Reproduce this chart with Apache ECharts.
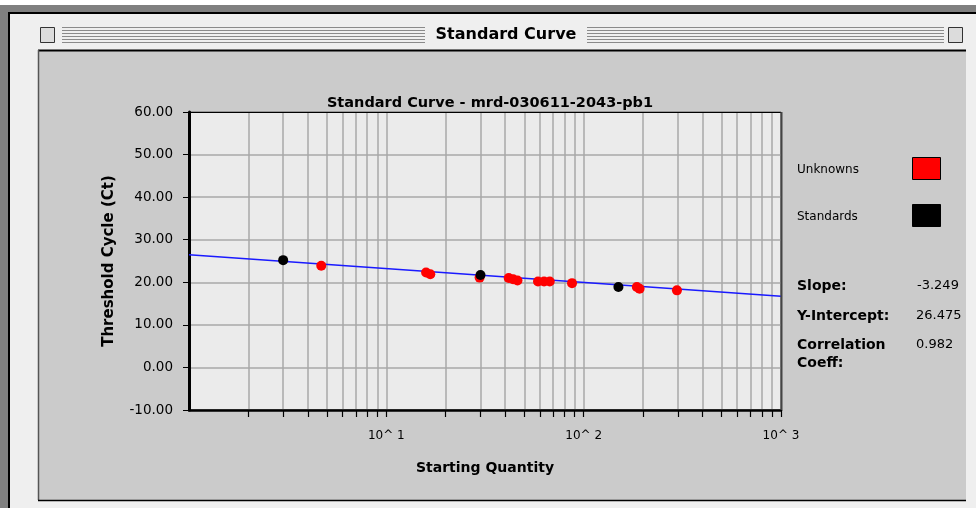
<!DOCTYPE html>
<html>
<head>
<meta charset="utf-8">
<script src="https://cdn.jsdelivr.net/npm/echarts@6/dist/echarts.min.js"></script>
<style>
  html, body { margin: 0; padding: 0; background: #ffffff; }
  #chart { width: 976px; height: 508px; }
</style>
</head>
<body>
<div id="chart"></div>
<script>
// Standard curve: threshold cycle vs. starting quantity (log scale)
const windowTitle = 'Standard Curve';
const chartTitle = 'Standard Curve - mrd-030611-2043-pb1';

const unknownQty = [4.68, 15.9, 16.7, 29.7, 41.7, 43.9, 46.2, 58.7, 63.0, 67.3, 87.3, 186, 192, 297];
const unknownCt  = [23.9, 22.3, 21.9, 21.1, 21.0, 20.7, 20.4, 20.2, 20.2, 20.2, 19.8, 18.9, 18.5, 18.1];

const standardQty = [3, 30, 150];
const standardCt  = [25.2, 21.7, 18.9];

const slope = -3.249;
const intercept = 26.475;
const correlation = 0.982;

const qtyRange = [1, 1000];
const ctRange = [-10, 60];
const ctStep = 10;
const qtyTickValues = [2, 3, 4, 5, 6, 7, 8, 9, 10, 20, 30, 40, 50, 60, 70, 80, 90, 100,
                       200, 300, 400, 500, 600, 700, 800, 900, 1000];
const qtyLabelValues = [10, 100, 1000];

// regression line endpoints from the reported slope / intercept
const fitLine = qtyRange.map(q => [q, intercept + slope * Math.log10(q)]);

const toPairs = (xs, ys) => xs.map((x, i) => [x, ys[i]]);

const FONT = '"DejaVu Sans", "Liberation Sans", sans-serif';
const chart = echarts.init(document.getElementById('chart'), null, { renderer: 'canvas' });

// plot box in pixels
const G = { left: 189, top: 112, width: 592, height: 298 };

// window chrome pieces
const chrome = [];
chrome.push({ type: 'rect', z: -100, shape: { x: 0, y: 5, width: 976, height: 8 }, style: { fill: '#808080' } });
chrome.push({ type: 'rect', z: -100, shape: { x: 0, y: 5, width: 8, height: 503 }, style: { fill: '#808080' } });
chrome.push({ type: 'rect', z: -100, shape: { x: 10, y: 14, width: 966, height: 494 }, style: { fill: '#efefef' } });
chrome.push({ type: 'line', z: -99, shape: { x1: 8, y1: 13, x2: 976, y2: 13 }, style: { stroke: '#000', lineWidth: 2 } });
chrome.push({ type: 'line', z: -99, shape: { x1: 9, y1: 13, x2: 9, y2: 508 }, style: { stroke: '#000', lineWidth: 2 } });
// title bar stripes
for (let i = 0; i < 6; i++) {
  const y = 27.5 + i * 3;
  chrome.push({ type: 'line', z: -99, shape: { x1: 62, y1: y, x2: 425, y2: y }, style: { stroke: '#8a8a8a', lineWidth: 1 } });
  chrome.push({ type: 'line', z: -99, shape: { x1: 587, y1: y, x2: 944, y2: y }, style: { stroke: '#8a8a8a', lineWidth: 1 } });
}
chrome.push({ type: 'rect', z: -99, shape: { x: 40.5, y: 27.5, width: 14, height: 15 }, style: { fill: '#dcdcdc', stroke: '#333', lineWidth: 1 } });
chrome.push({ type: 'rect', z: -99, shape: { x: 948.5, y: 27.5, width: 14, height: 15 }, style: { fill: '#dcdcdc', stroke: '#333', lineWidth: 1 } });
chrome.push({ type: 'text', z: -99, style: { text: windowTitle, x: 506, y: 35, textAlign: 'center', textVerticalAlign: 'middle', font: 'bold 16px ' + FONT, fill: '#000' } });
// inner pane
chrome.push({ type: 'rect', z: -99, shape: { x: 38, y: 50, width: 928, height: 450 }, style: { fill: '#cbcbcb' } });
chrome.push({ type: 'line', z: -98, shape: { x1: 38, y1: 50.5, x2: 966, y2: 50.5 }, style: { stroke: '#000', lineWidth: 2 } });
chrome.push({ type: 'line', z: -98, shape: { x1: 38.5, y1: 50, x2: 38.5, y2: 500 }, style: { stroke: '#555', lineWidth: 1.5 } });
chrome.push({ type: 'line', z: -98, shape: { x1: 38, y1: 500.5, x2: 966, y2: 500.5 }, style: { stroke: '#000', lineWidth: 1.5 } });

// plot frame on top of grid lines
const frame = [
  { type: 'line', z: 5, shape: { x1: G.left, y1: G.top + 0.5, x2: G.left + G.width, y2: G.top + 0.5 }, style: { stroke: '#000', lineWidth: 1 } },
  { type: 'line', z: 5, shape: { x1: G.left + G.width + 0.5, y1: G.top, x2: G.left + G.width + 0.5, y2: G.top + G.height }, style: { stroke: '#444', lineWidth: 2 } }
];

// legend and regression summary
const side = [];
const txt = (text, x, y, font) => ({ type: 'text', style: { text, x, y, textAlign: 'left', textVerticalAlign: 'middle', font: font + ' ' + FONT, fill: '#000' } });
side.push(txt('Unknowns', 797, 170, '12px'));
side.push({ type: 'rect', shape: { x: 912.5, y: 157.5, width: 28, height: 22 }, style: { fill: '#ff0000', stroke: '#000', lineWidth: 1 } });
side.push(txt('Standards', 797, 217, '12px'));
side.push({ type: 'rect', shape: { x: 912.5, y: 204.5, width: 28, height: 22 }, style: { fill: '#000000', stroke: '#000', lineWidth: 1 } });
side.push(txt('Slope:', 797, 286, 'bold 14px'));
side.push(txt(slope.toFixed(3), 917, 286, '13px'));
side.push(txt('Y-Intercept:', 797, 316, 'bold 14px'));
side.push(txt(intercept.toFixed(3), 916, 316, '13px'));
side.push(txt('Correlation', 797, 345, 'bold 14px'));
side.push(txt('Coeff:', 797, 363, 'bold 14px'));
side.push(txt(correlation.toFixed(3), 916, 345, '13px'));

const option = {
  animation: false,
  backgroundColor: 'transparent',
  title: {
    text: chartTitle,
    left: 485,
    top: 91,
    textAlign: 'center',
    textStyle: { fontFamily: FONT, fontSize: 14.5, fontWeight: 'bold', color: '#000' }
  },
  grid: {
    left: G.left, top: G.top, width: G.width, height: G.height,
    show: true, backgroundColor: '#ebebeb', borderColor: '#000', borderWidth: 1
  },
  xAxis: {
    type: 'log', logBase: 10, min: qtyRange[0], max: qtyRange[1],
    name: 'Starting Quantity', nameLocation: 'middle', nameGap: 51,
    nameTextStyle: { fontFamily: FONT, fontSize: 14, fontWeight: 'bold', color: '#000' },
    axisLine: { onZero: false, lineStyle: { color: '#000', width: 2.5 } },
    axisTick: { show: true, inside: false, length: 7, customValues: qtyTickValues, lineStyle: { color: '#000', width: 1.2 } },
    axisLabel: {
      customValues: qtyLabelValues, margin: 20, color: '#000', fontFamily: FONT, fontSize: 12,
      formatter: v => '10^ ' + Math.round(Math.log10(v))
    },
    splitLine: { show: true, lineStyle: { color: '#a9a9a9', width: 1.5 } },
    minorTick: { show: false }
  },
  yAxis: {
    type: 'value', min: ctRange[0], max: ctRange[1], interval: ctStep,
    name: 'Threshold Cycle (Ct)', nameLocation: 'middle', nameGap: 72, nameRotate: 90,
    nameTextStyle: { fontFamily: FONT, fontSize: 15, fontWeight: 'bold', color: '#000' },
    axisLine: { show: true, lineStyle: { color: '#000', width: 3 } },
    axisTick: { show: true, inside: false, length: 6, lineStyle: { color: '#000', width: 1 } },
    axisLabel: { margin: 16, color: '#000', fontFamily: FONT, fontSize: 13.5, formatter: v => v.toFixed(2) },
    splitLine: { show: true, lineStyle: { color: '#a9a9a9', width: 1.5 } }
  },
  graphic: { elements: chrome.concat(frame, side) },
  series: [
    {
      name: 'Fit', type: 'line', data: fitLine, symbol: 'none', z: 2,
      lineStyle: { color: '#1a1aff', width: 1.5 }
    },
    {
      name: 'Unknowns', type: 'scatter', data: toPairs(unknownQty, unknownCt), z: 3,
      symbol: 'circle', symbolSize: 10, itemStyle: { color: '#ff0000', opacity: 1 }
    },
    {
      name: 'Standards', type: 'scatter', data: toPairs(standardQty, standardCt), z: 4,
      symbol: 'circle', symbolSize: 10, itemStyle: { color: '#000000', opacity: 1 }
    }
  ]
};
chart.setOption(option);
</script>
</body>
</html>
